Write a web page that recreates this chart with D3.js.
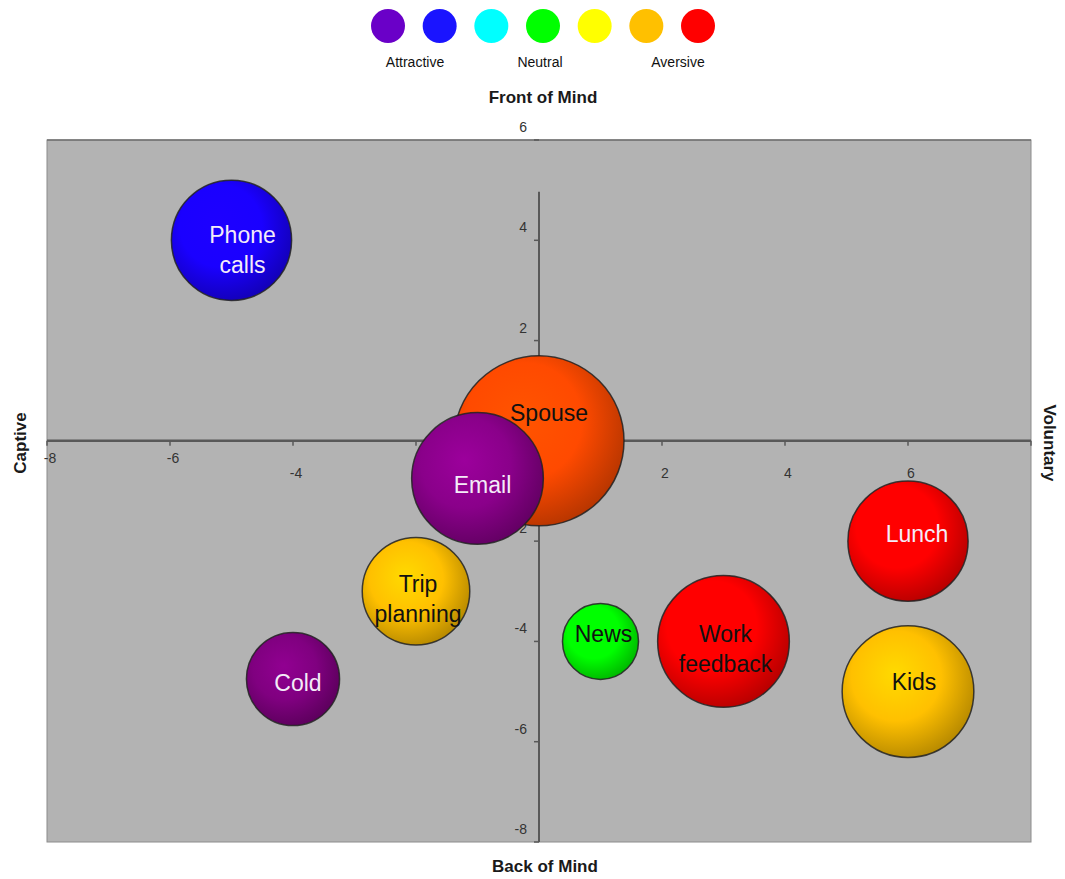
<!DOCTYPE html>
<html>
<head>
<meta charset="utf-8">
<script src="https://cdn.jsdelivr.net/npm/d3@7"></script>
<style>
  body { margin: 0; background: #fff; }
  text { font-family: "Liberation Sans", Arial, sans-serif; }
</style>
</head>
<body>
<div id="chart"></div>
<script>
// bubble data
const names = ["Spouse", "Email", "Work feedback", "Kids", "Phone calls", "Lunch", "Trip planning", "Cold", "News"];
const xVals = [0, -1, 3, 6, -5, 6, -2, -4, 1];
const yVals = [0, -0.75, -4, -5, 4, -2, -3, -4.75, -4];
const sizes = [10, 6, 6, 6, 5, 5, 4, 3, 2];
const fills = ["#ff4a00", "#8a008a", "#ff0000", "#ffc000", "#1a00ff", "#ff0000", "#ffc000", "#800080", "#00ff00"];
const lightText = ["Email", "Phone calls", "Lunch", "Cold"];

// legend
const legendColors = ["#6a00c8", "#1a14ff", "#00ffff", "#00ff00", "#ffff00", "#ffc000", "#ff0000"];
const legendLabels = ["Attractive", "Neutral", "Aversive"];

const xTicks = [-8, -6, -4, -2, 2, 4, 6, 8];
const yTicks = [6, 4, 2, -2, -4, -6, -8];

// label nudges (px) so text sits where the original chart put it
const labelNudge = {
    "Spouse": [10, -28], "Email": [5, 7], "Work feedback": [2, -7], "Kids": [6, -10],
    "Phone calls": [11, -5], "Lunch": [9, -7], "Trip planning": [2, -7], "Cold": [5, 4], "News": [3, -7]
};

const width = 1065, height = 879;
const plot = { left: 47, right: 1031, top: 140, bottom: 842 };

const svg = d3.select("#chart").append("svg")
    .attr("width", width)
    .attr("height", height);

const x = d3.scaleLinear().domain([-8, 8]).range([plot.left, plot.right]);
const y = d3.scaleLinear().domain([-8, 6]).range([plot.bottom, plot.top]);
const r = d3.scaleSqrt().domain([0, 10]).range([0, 85]);

const defs = svg.append("defs");
fills.forEach((c, i) => {
    const g = defs.append("radialGradient")
        .attr("id", "ball" + i)
        .attr("cx", "42%").attr("cy", "40%").attr("r", "62%")
        .attr("fx", "40%").attr("fy", "36%");
    g.append("stop").attr("offset", "0%").attr("stop-color", d3.color(c).brighter(0.35));
    g.append("stop").attr("offset", "55%").attr("stop-color", c);
    g.append("stop").attr("offset", "100%").attr("stop-color", d3.color(c).darker(0.9));
});

// plot area
svg.append("rect")
    .attr("x", plot.left).attr("y", plot.top)
    .attr("width", plot.right - plot.left)
    .attr("height", plot.bottom - plot.top)
    .style("fill", "#b3b3b3")
    .attr("stroke", "#8c8c8c")
    .attr("stroke-width", 1);
svg.append("line")
    .attr("x1", plot.left).attr("x2", plot.right)
    .attr("y1", plot.top).attr("y2", plot.top)
    .attr("stroke", "#6f6f6f").attr("stroke-width", 1.5);

// x axis (at y = 0)
const axisColor = "#595959";
svg.append("line")
    .attr("x1", plot.left).attr("x2", plot.right)
    .attr("y1", y(0)).attr("y2", y(0))
    .attr("stroke", axisColor).attr("stroke-width", 2.5);
svg.selectAll(".xtick").data(xTicks).enter().append("line")
    .attr("x1", d => x(d)).attr("x2", d => x(d))
    .attr("y1", y(0)).attr("y2", y(0) + 5)
    .attr("stroke", axisColor).attr("stroke-width", 1.5);
svg.selectAll(".xlab").data(xTicks.filter(d => d !== 8)).enter().append("text")
    .attr("x", d => x(d) + 3)
    .attr("y", d => d < -5 ? y(0) + 22 : y(0) + 37)
    .attr("text-anchor", "middle")
    .style("font-size", "14px")
    .style("fill", "#333")
    .text(d => d);

// y axis (at x = 0)
svg.append("line")
    .attr("x1", x(0)).attr("x2", x(0))
    .attr("y1", y(4.97)).attr("y2", plot.bottom)
    .attr("stroke", axisColor).attr("stroke-width", 2);
svg.selectAll(".ytick").data(yTicks).enter().append("line")
    .attr("x1", x(0) - 5).attr("x2", x(0))
    .attr("y1", d => y(d)).attr("y2", d => y(d))
    .attr("stroke", axisColor).attr("stroke-width", 1.5);
svg.selectAll(".ylab").data(yTicks).enter().append("text")
    .attr("x", x(0) - 12)
    .attr("y", d => y(d) - 8)
    .attr("text-anchor", "end")
    .style("font-size", "14px")
    .style("fill", "#333")
    .text(d => d);

// bubbles
const idx = d3.range(names.length);
const balls = svg.selectAll(".ball").data(idx).enter().append("g")
    .attr("transform", i => `translate(${x(xVals[i])},${y(yVals[i])})`);
balls.append("circle")
    .attr("r", i => r(sizes[i]))
    .style("fill", i => `url(#ball${i})`)
    .attr("stroke", "#222")
    .attr("stroke-width", 1.5)
    .attr("stroke-opacity", 0.85);

balls.each(function (i) {
    const g = d3.select(this);
    const words = names[i].split(" ");
    const [dx, dy] = labelNudge[names[i]];
    const light = lightText.includes(names[i]);
    const lineH = 30;
    const t = g.append("text")
        .attr("text-anchor", "middle")
        .style("font-size", "23px")
        .style("fill", light ? "#f4ecf8" : "#111");
    words.forEach((w, k) => {
        t.append("tspan")
            .attr("x", dx)
            .attr("y", dy + 8 + k * lineH)
            .text(w);
    });
});

// legend
const legendX = d3.scalePoint().domain(d3.range(legendColors.length)).range([388, 698]);
svg.selectAll(".leg").data(legendColors).enter().append("circle")
    .attr("cx", (d, i) => legendX(i))
    .attr("cy", 26)
    .attr("r", 17)
    .style("fill", d => d);
const legendLabelX = [415, 540, 678];
svg.selectAll(".legLab").data(legendLabels).enter().append("text")
    .attr("x", (d, i) => legendLabelX[i])
    .attr("y", 67)
    .attr("text-anchor", "middle")
    .style("font-size", "14px")
    .style("fill", "#111")
    .text(d => d);

// axis titles
svg.append("text")
    .attr("x", 543).attr("y", 103)
    .attr("text-anchor", "middle")
    .style("font-size", "17px").style("font-weight", "bold").style("fill", "#1a1a1a")
    .text("Front of Mind");
svg.append("text")
    .attr("x", 545).attr("y", 872)
    .attr("text-anchor", "middle")
    .style("font-size", "17px").style("font-weight", "bold").style("fill", "#1a1a1a")
    .text("Back of Mind");
svg.append("text")
    .attr("transform", "translate(26,443) rotate(-90)")
    .attr("text-anchor", "middle")
    .style("font-size", "17px").style("font-weight", "bold").style("fill", "#1a1a1a")
    .text("Captive");
svg.append("text")
    .attr("transform", "translate(1044,443) rotate(90)")
    .attr("text-anchor", "middle")
    .style("font-size", "17px").style("font-weight", "bold").style("fill", "#1a1a1a")
    .text("Voluntary");
</script>
</body>
</html>
